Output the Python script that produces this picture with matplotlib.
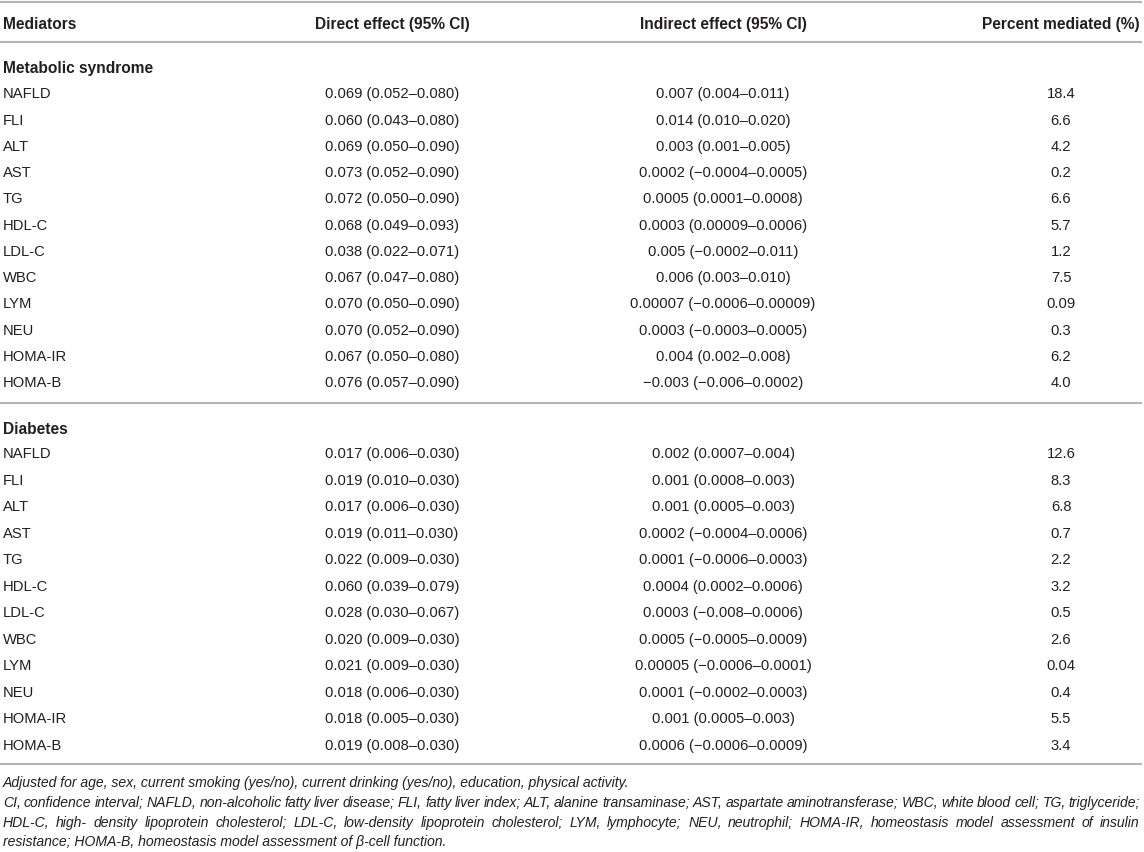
import matplotlib
matplotlib.use("Agg")
import matplotlib.pyplot as plt

# ---------------- data ----------------
header = ["Mediators", "Direct effect (95% CI)", "Indirect effect (95% CI)", "Percent mediated (%)"]
sections = ["Metabolic syndrome", "Diabetes"]
mediators = ["NAFLD", "FLI", "ALT", "AST", "TG", "HDL-C", "LDL-C", "WBC", "LYM", "NEU", "HOMA-IR", "HOMA-B"]

mets_direct = ["0.069 (0.052–0.080)", "0.060 (0.043–0.080)", "0.069 (0.050–0.090)", "0.073 (0.052–0.090)",
               "0.072 (0.050–0.090)", "0.068 (0.049–0.093)", "0.038 (0.022–0.071)", "0.067 (0.047–0.080)",
               "0.070 (0.050–0.090)", "0.070 (0.052–0.090)", "0.067 (0.050–0.080)", "0.076 (0.057–0.090)"]
mets_indirect = ["0.007 (0.004–0.011)", "0.014 (0.010–0.020)", "0.003 (0.001–0.005)", "0.0002 (−0.0004–0.0005)",
                 "0.0005 (0.0001–0.0008)", "0.0003 (0.00009–0.0006)", "0.005 (−0.0002–0.011)", "0.006 (0.003–0.010)",
                 "0.00007 (−0.0006–0.00009)", "0.0003 (−0.0003–0.0005)", "0.004 (0.002–0.008)", "−0.003 (−0.006–0.0002)"]
mets_pct = ["18.4", "6.6", "4.2", "0.2", "6.6", "5.7", "1.2", "7.5", "0.09", "0.3", "6.2", "4.0"]

diab_direct = ["0.017 (0.006–0.030)", "0.019 (0.010–0.030)", "0.017 (0.006–0.030)", "0.019 (0.011–0.030)",
               "0.022 (0.009–0.030)", "0.060 (0.039–0.079)", "0.028 (0.030–0.067)", "0.020 (0.009–0.030)",
               "0.021 (0.009–0.030)", "0.018 (0.006–0.030)", "0.018 (0.005–0.030)", "0.019 (0.008–0.030)"]
diab_indirect = ["0.002 (0.0007–0.004)", "0.001 (0.0008–0.003)", "0.001 (0.0005–0.003)", "0.0002 (−0.0004–0.0006)",
                 "0.0001 (−0.0006–0.0003)", "0.0004 (0.0002–0.0006)", "0.0003 (−0.008–0.0006)", "0.0005 (−0.0005–0.0009)",
                 "0.00005 (−0.0006–0.0001)", "0.0001 (−0.0002–0.0003)", "0.001 (0.0005–0.003)", "0.0006 (−0.0006–0.0009)"]
diab_pct = ["12.6", "8.3", "6.8", "0.7", "2.2", "3.2", "0.5", "2.6", "0.04", "0.4", "5.5", "3.4"]

footnotes = [
    "Adjusted for age, sex, current smoking (yes/no), current drinking (yes/no), education, physical activity.",
    "CI, confidence interval; NAFLD, non-alcoholic fatty liver disease; FLI, fatty liver index; ALT, alanine transaminase; AST, aspartate aminotransferase; WBC, white blood cell; TG, triglyceride;",
    "HDL-C, high- density lipoprotein cholesterol; LDL-C, low-density lipoprotein cholesterol; LYM, lymphocyte; NEU, neutrophil; HOMA-IR, homeostasis model assessment of insulin",
    "resistance; HOMA-B, homeostasis model assessment of β-cell function.",
]

# ---------------- layout ----------------
W, H = 1144, 853
DPI = 100
FAM = ["Liberation Sans", "DejaVu Sans"]
TXT = "#231f20"
LINE = "#b5b5b5"
FS = 10.6          # pt
FS_BOLD = 11.2
FS_NOTE = 10.1
col_left = 3
col_centers = [392, 723, 1061]

fig = plt.figure(figsize=(W / DPI, H / DPI), dpi=DPI)
ax = fig.add_axes([0, 0, 1, 1])
ax.set_xlim(0, W)
ax.set_ylim(H, 0)
ax.axis("off")


def px(pt):
    return pt * DPI / 72.0


def put(x, yc, s, ha="left", bold=False, italic=False, size=FS):
    # yc = visual centre of cap-height; place baseline below it
    return ax.text(x, yc + 0.36 * px(size), s, ha=ha, va="baseline", fontsize=size,
                   family=FAM, color=TXT, fontweight="bold" if bold else "normal",
                   fontstyle="italic" if italic else "normal")


def hline(y):
    ax.plot([0, W - 2], [y, y], color=LINE, lw=1.5, solid_capstyle="butt")


hline(3)
hline(43)
hline(404)
hline(765)

# header
put(col_left, 23, header[0], bold=True, size=FS_BOLD)
for c, h in zip(col_centers, header[1:]):
    put(c, 23, h, ha="center", bold=True, size=FS_BOLD)

blocks = [
    (sections[0], 67, 93, 26.25, mets_direct, mets_indirect, mets_pct),
    (sections[1], 428, 453, 26.5, diab_direct, diab_indirect, diab_pct),
]
for title, ty, y0, dy, d, ind, pct in blocks:
    put(col_left, ty, title, bold=True, size=FS_BOLD)
    for i, m in enumerate(mediators):
        y = y0 + i * dy
        put(col_left, y, m)
        put(col_centers[0], y, d[i], ha="center")
        put(col_centers[1], y, ind[i], ha="center")
        put(col_centers[2], y, pct[i], ha="center")

# footnotes (italic, lines 2-3 justified)
note_y = [782, 802, 821.5, 841]
justify_to = [None, 1140, 1139, None]
fig.canvas.draw()
renderer = fig.canvas.get_renderer()
for s, y, jt in zip(footnotes, note_y, justify_to):
    if jt is None:
        put(col_left, y, s, italic=True, size=FS_NOTE)
        continue
    words = s.split(" ")
    arts = [put(0, y, w, italic=True, size=FS_NOTE) for w in words]
    widths = [a.get_window_extent(renderer).width for a in arts]
    gap = (jt - col_left - sum(widths)) / (len(words) - 1)
    x = col_left
    for a, w in zip(arts, widths):
        a.set_x(x)
        x += w + gap

fig.savefig("out.png", dpi=DPI, facecolor="white")
